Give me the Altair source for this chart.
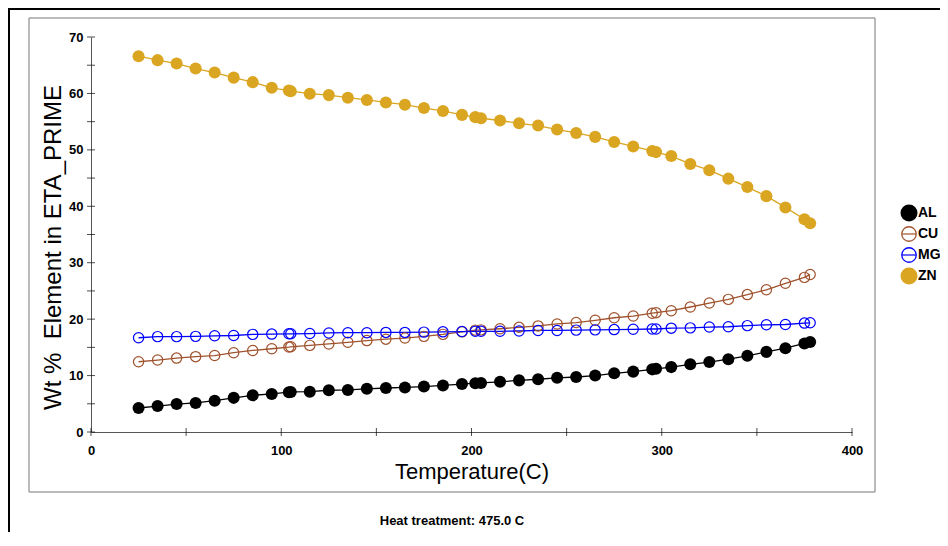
import altair as alt
import pandas as pd

# ---- data ----
temps = [25, 35, 45, 55, 65, 75, 85, 95, 104, 105, 115, 125, 135, 145, 155, 165, 175, 185, 195,
         202, 205, 215, 225, 235, 245, 255, 265, 275, 285, 295, 297, 305, 315, 325, 335, 345,
         355, 365, 375, 378]
al = [4.25, 4.6, 4.95, 5.15, 5.55, 6.05, 6.5, 6.75, 7.05, 7.1, 7.15, 7.4, 7.45, 7.65, 7.8, 7.9,
      8.05, 8.25, 8.5, 8.65, 8.7, 8.9, 9.15, 9.35, 9.6, 9.75, 10.0, 10.4, 10.7, 11.1, 11.2, 11.5,
      12.0, 12.4, 12.9, 13.5, 14.2, 14.85, 15.7, 15.95]
cu = [12.45, 12.75, 13.1, 13.35, 13.55, 14.05, 14.45, 14.75, 15.05, 15.1, 15.35, 15.6, 15.9,
      16.2, 16.45, 16.65, 16.95, 17.3, 17.75, 18.05, 18.1, 18.3, 18.55, 18.8, 19.15, 19.4, 19.8,
      20.25, 20.55, 21.05, 21.15, 21.5, 22.15, 22.85, 23.5, 24.35, 25.2, 26.35, 27.4, 27.9]
mg = [16.7, 16.9, 16.9, 16.95, 17.05, 17.1, 17.3, 17.35, 17.4, 17.4, 17.45, 17.55, 17.6, 17.6,
      17.65, 17.65, 17.7, 17.75, 17.8, 17.85, 17.85, 17.85, 17.9, 18.0, 18.0, 18.05, 18.1, 18.15,
      18.2, 18.25, 18.25, 18.4, 18.45, 18.6, 18.65, 18.85, 19.0, 19.05, 19.3, 19.35]
zn = [66.6, 65.9, 65.3, 64.4, 63.7, 62.8, 62.0, 61.0, 60.5, 60.4, 59.95, 59.7, 59.25, 58.85,
      58.4, 58.0, 57.4, 56.9, 56.2, 55.8, 55.6, 55.2, 54.7, 54.3, 53.6, 53.0, 52.3, 51.4, 50.6,
      49.8, 49.6, 48.9, 47.5, 46.4, 44.9, 43.4, 41.8, 39.8, 37.7, 37.0]

series_names = ["AL", "CU", "MG", "ZN"]
series_colors = ["#000000", "#A0522D", "#0000FF", "#DAA520"]
filled_series = ["AL", "ZN"]
open_series = ["CU", "MG"]

x_ticks = [0, 50, 100, 150, 200, 250, 300, 350, 400]
x_labels = [0, 100, 200, 300, 400]
y_ticks = [0, 5, 10, 15, 20, 25, 30, 35, 40, 45, 50, 55, 60, 65, 70]
y_labels = [0, 10, 20, 30, 40, 50, 60, 70]

x_title = "Temperature(C)"
y_title = "Wt %\u00a0\u00a0Element in ETA_PRIME"
footer = "Heat treatment: 475.0 C"

FONT = "Liberation Sans"

rows = []
for name, vals in zip(series_names, [al, cu, mg, zn]):
    for t, v in zip(temps, vals):
        rows.append({"series": name, "temp": t, "wt": v})
df = pd.DataFrame(rows)

xs = alt.Scale(domain=[0, 400], nice=False, zero=False)
ys = alt.Scale(domain=[0, 70], nice=False, zero=False)
cs = alt.Scale(domain=series_names, range=series_colors)

x_axis = alt.Axis(values=x_labels, ticks=False, grid=False, title=x_title,
                  labelFont=FONT, labelFontSize=13, labelFontWeight="bold", labelColor="black",
                  labelPadding=12, labelFlush=False, domainColor="#555555", domainWidth=1,
                  titleFont=FONT, titleFontSize=22, titleFontWeight="normal", titleColor="black",
                  titlePadding=4)
y_axis = alt.Axis(values=y_labels, ticks=False, grid=False, title=y_title,
                  labelFont=FONT, labelFontSize=13, labelFontWeight="bold", labelColor="black",
                  labelPadding=8, labelFlush=False, domainColor="#555555", domainWidth=1,
                  titleFont=FONT, titleFontSize=24, titleFontWeight="normal", titleColor="black",
                  titlePadding=3, titleY=210)

X = alt.X("temp:Q", scale=xs, axis=x_axis)
Y = alt.Y("wt:Q", scale=ys, axis=y_axis)

base = alt.Chart(df)
lines = base.mark_line(strokeWidth=1.3).encode(
    x=X, y=Y,
    color=alt.Color("series:N", scale=cs, legend=None),
)
pts_filled = base.transform_filter(
    alt.FieldOneOfPredicate(field="series", oneOf=filled_series)
).mark_circle(size=145, opacity=1).encode(
    x=X, y=Y,
    color=alt.Color("series:N", scale=cs, legend=None),
)
pts_open = base.transform_filter(
    alt.FieldOneOfPredicate(field="series", oneOf=open_series)
).mark_point(shape="circle", size=105, strokeWidth=1.2, opacity=1, filled=False).encode(
    x=X, y=Y,
    color=alt.Color("series:N", scale=cs, legend=None),
)

# crossing ticks on axes
yt = alt.Chart(pd.DataFrame({"wt": y_ticks})).mark_tick(
    orient="horizontal", size=8, thickness=1, color="black"
).encode(x=alt.value(0), y=Y)
xt = alt.Chart(pd.DataFrame({"temp": x_ticks})).mark_tick(
    orient="vertical", size=8, thickness=1, color="black"
).encode(y=alt.value(395), x=X)

one = pd.DataFrame({"d": [0]})
deco = []
# outer frame lines
deco.append(alt.Chart(one).mark_rule(color="black", strokeWidth=2).encode(
    x=alt.value(-83), x2=alt.value(860), y=alt.value(-28)))
deco.append(alt.Chart(one).mark_rule(color="black", strokeWidth=2).encode(
    x=alt.value(-82), y=alt.value(-29), y2=alt.value(500)))
# inner box
deco.append(alt.Chart(one).mark_rect(fillOpacity=0, stroke="#777777", strokeWidth=1).encode(
    x=alt.value(-62), x2=alt.value(784), y=alt.value(-19), y2=alt.value(455)))
# footer
deco.append(alt.Chart(pd.DataFrame({"t": [footer]})).mark_text(
    font=FONT, fontSize=13, fontWeight="bold", color="black", align="center", baseline="middle"
).encode(text="t:N", x=alt.value(361), y=alt.value(484)))

# legend
for i, (name, col) in enumerate(zip(series_names, series_colors)):
    ly = 176 + 21 * i
    ldf = pd.DataFrame({"t": [name]})
    if name in filled_series:
        deco.append(alt.Chart(ldf).mark_circle(size=290, color=col, opacity=1).encode(
            x=alt.value(818), y=alt.value(ly)))
    else:
        deco.append(alt.Chart(ldf).mark_rule(color=col, strokeWidth=1.2).encode(
            x=alt.value(811), x2=alt.value(825), y=alt.value(ly)))
        deco.append(alt.Chart(ldf).mark_point(shape="circle", size=210, color=col,
                                              strokeWidth=1.3, opacity=1).encode(
            x=alt.value(818), y=alt.value(ly)))
    deco.append(alt.Chart(ldf).mark_text(
        font=FONT, fontSize=14, fontWeight="bold", color="black", align="left", baseline="middle"
    ).encode(text="t:N", x=alt.value(827), y=alt.value(ly)))

chart = alt.layer(lines, pts_filled, pts_open, yt, xt, *deco).properties(
    width=761, height=395,
    padding={"left": 83, "top": 29, "right": 88, "bottom": 100},
    autosize=alt.AutoSizeParams(type="none"),
    background="white",
).configure_view(strokeWidth=0)

chart.save("out.html", embed_options={"renderer": "svg", "actions": False})
